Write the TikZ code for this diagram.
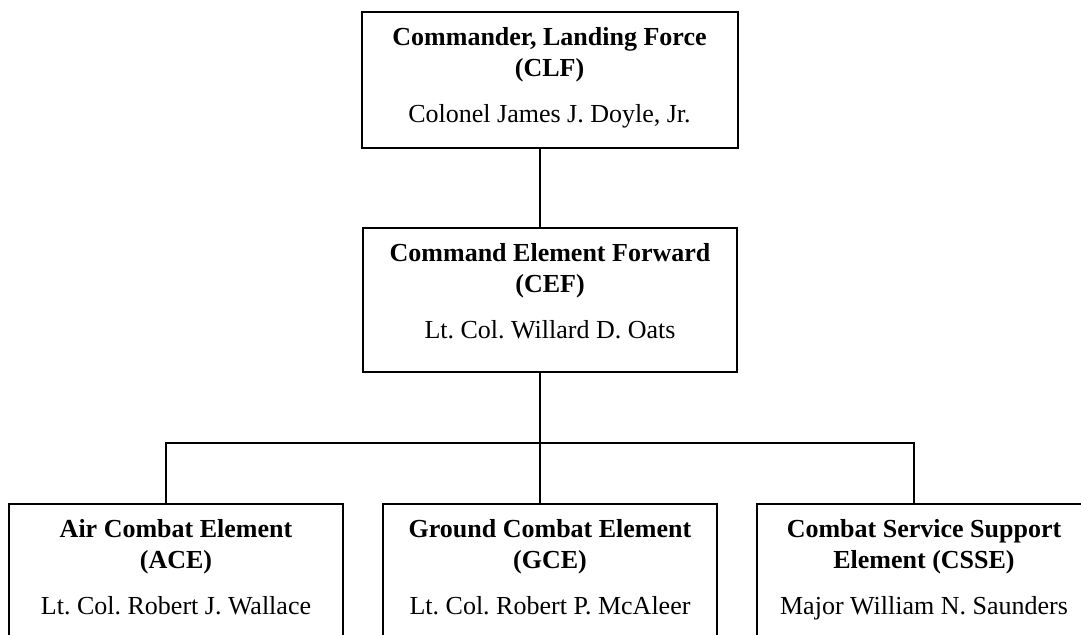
\documentclass[tikz,border=0pt]{standalone}
\usepackage{fontspec}
\setmainfont{Liberation Serif}
\usepackage{tikz}
\frenchspacing
\newcommand{\orgtext}[3]{\textbf{#1}\\\textbf{#2}\\[7.5pt]#3}

\begin{document}
\begin{tikzpicture}[x=0.5pt,y=-0.5pt,line width=1pt,
  box/.style={draw,anchor=north,align=center,inner xsep=0pt,inner ysep=7.7pt,
    font=\fontsize{13pt}{15.5pt}\selectfont}]
\useasboundingbox (0,0) rectangle (1081,635);
\clip (0,0) rectangle (1081,635);
% ---- CLF / CEF ----
\node[box,minimum width=188pt,text depth=5.3pt] (clf) at (549.5,11)
  {\orgtext{Commander, Landing Force}{(CLF)}{Colonel James J. Doyle, Jr.}};
\node[box,minimum width=187pt,text depth=9.3pt] (cef) at (550,227)
  {\orgtext{Command Element Forward}{(CEF)}{Lt. Col. Willard D. Oats}};
% ---- elements ----
\node[box,minimum width=167pt,text depth=40pt] (ace) at (176,503)
  {\orgtext{Air Combat Element}{(ACE)}{Lt. Col. Robert J. Wallace}};
\node[box,minimum width=167pt,text depth=40pt] (gce) at (550,503)
  {\orgtext{Ground Combat Element}{(GCE)}{Lt. Col. Robert P. McAleer}};
\node[box,minimum width=167pt,text depth=40pt] (csse) at (924,503)
  {\orgtext{Combat Service Support}{Element (CSSE)}{Major William N. Saunders}};
% ---- lines ----
\coordinate (bar) at (540,443);
\draw (clf.south -| bar) -- (cef.north -| bar);
\draw (cef.south -| bar) -- (bar);
\draw ([xshift=-5pt]ace.north) |- (bar) -| ([xshift=-5pt]csse.north);
\draw (bar) -- (gce.north -| bar);
\end{tikzpicture}
\end{document}
